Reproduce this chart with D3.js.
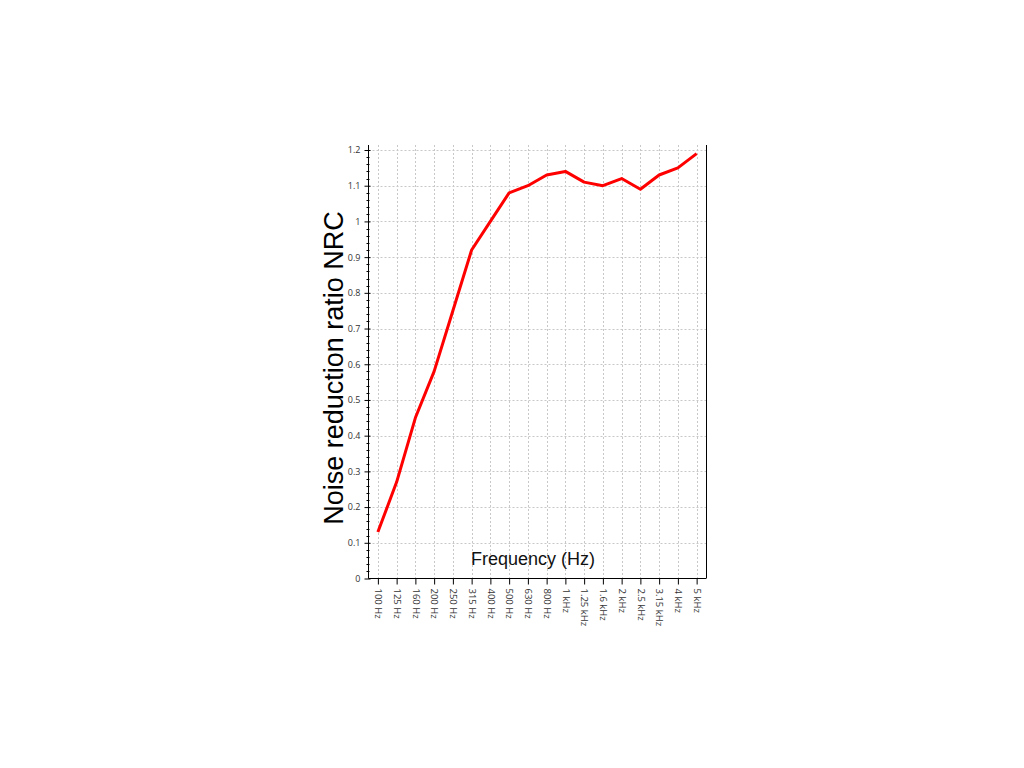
<!DOCTYPE html>
<html><head><meta charset="utf-8">
<script src="https://cdn.jsdelivr.net/npm/d3@7/dist/d3.min.js"></script>
<style>body{margin:0;background:#fff;} svg{display:block;}</style>
</head><body>
<svg id="c" width="1024" height="768"></svg>
<script>
const categories = ["100 Hz","125 Hz","160 Hz","200 Hz","250 Hz","315 Hz","400 Hz","500 Hz","630 Hz","800 Hz","1 kHz","1.25 kHz","1.6 kHz","2 kHz","2.5 kHz","3.15 kHz","4 kHz","5 kHz"];
const nrcValues = [0.13,0.27,0.45,0.58,0.75,0.92,1.00,1.08,1.10,1.13,1.14,1.11,1.10,1.12,1.09,1.13,1.15,1.19];
const yTicks = [0,0.1,0.2,0.3,0.4,0.5,0.6,0.7,0.8,0.9,1,1.1,1.2];

const svg = d3.select("#c");
const L = 368.5, R = 706, T = 145, B = 578.5;
const x = d3.scalePoint().domain(categories).range([L, R]).padding(0.5);
const y = d3.scaleLinear().domain([0, 1.2]).range([B, 150]);
const font = "'Open Sans', 'DejaVu Sans', sans-serif";

// grid
const g = svg.append("g");
g.selectAll(".hg").data(yTicks.slice(1)).join("line")
  .attr("x1", L).attr("x2", R).attr("y1", d => Math.round(y(d)) + 0.5).attr("y2", d => Math.round(y(d)) + 0.5)
  .attr("stroke", "#c8c8c8").attr("stroke-width", 1).attr("stroke-dasharray", "2,2");
g.selectAll(".vg").data(categories).join("line")
  .attr("x1", d => Math.round(x(d)) + 0.5).attr("x2", d => Math.round(x(d)) + 0.5).attr("y1", T).attr("y2", B)
  .attr("stroke", "#c8c8c8").attr("stroke-width", 1).attr("stroke-dasharray", "2,2");

// y axis
const yAxis = d3.axisLeft(y).tickValues(yTicks).tickSize(4).tickPadding(4)
  .tickFormat(d => d3.format("~g")(d));
const ya = svg.append("g").attr("transform", `translate(${L},0)`).call(yAxis);
ya.select(".domain").remove();
ya.selectAll(".tick line").attr("x2", -4).attr("x1", 2).attr("stroke", "#000");
ya.selectAll("text").attr("font-family", font).attr("font-size", 9).attr("fill", "#333");
// minor ticks
const minor = d3.range(0, 1.2001, 0.02).filter(v => Math.abs(v*10 - Math.round(v*10)) > 1e-6);
svg.append("g").selectAll("line").data(minor).join("line")
  .attr("x1", L - 2).attr("x2", L + 1).attr("y1", d => Math.round(y(d)) + 0.5).attr("y2", d => Math.round(y(d)) + 0.5)
  .attr("stroke", "#000");
svg.append("line").attr("x1", L).attr("x2", L).attr("y1", T).attr("y2", B).attr("stroke", "#000");

// x axis
const xAxis = d3.axisBottom(x).tickSize(6).tickPadding(4);
const xa = svg.append("g").attr("transform", `translate(0,${B})`).call(xAxis);
xa.select(".domain").remove();
xa.selectAll(".tick line").attr("stroke", "#000");
xa.selectAll("text").attr("font-family", font).attr("font-size", 9.5).attr("fill", "#333")
  .attr("text-anchor", "start").attr("dy", "0.35em")
  .attr("transform", "translate(0,10) rotate(90)").attr("y", 0).attr("x", 0);
svg.append("line").attr("x1", L).attr("x2", R).attr("y1", B).attr("y2", B).attr("stroke", "#000");
svg.append("line").attr("x1", R + 0.5).attr("x2", R + 0.5).attr("y1", T).attr("y2", B).attr("stroke", "#000");

// line
svg.append("path").datum(nrcValues.map((v, i) => [categories[i], v]))
  .attr("fill", "none").attr("stroke", "#f00").attr("stroke-width", 3).attr("stroke-linejoin", "round")
  .attr("d", d3.line().x(d => x(d[0])).y(d => y(d[1])));

// titles
svg.append("text").attr("x", 533).attr("y", 565).attr("text-anchor", "middle")
  .attr("font-family", "'Liberation Sans', Arial, sans-serif").attr("font-size", 18).attr("fill", "#111")
  .text("Frequency (Hz)");
svg.append("text").attr("transform", "translate(343,368) rotate(-90)").attr("text-anchor", "middle")
  .attr("font-family", "'Liberation Sans', Arial, sans-serif").attr("font-size", 27).attr("fill", "#000")
  .text("Noise reduction ratio NRC");
</script>
</body></html>
